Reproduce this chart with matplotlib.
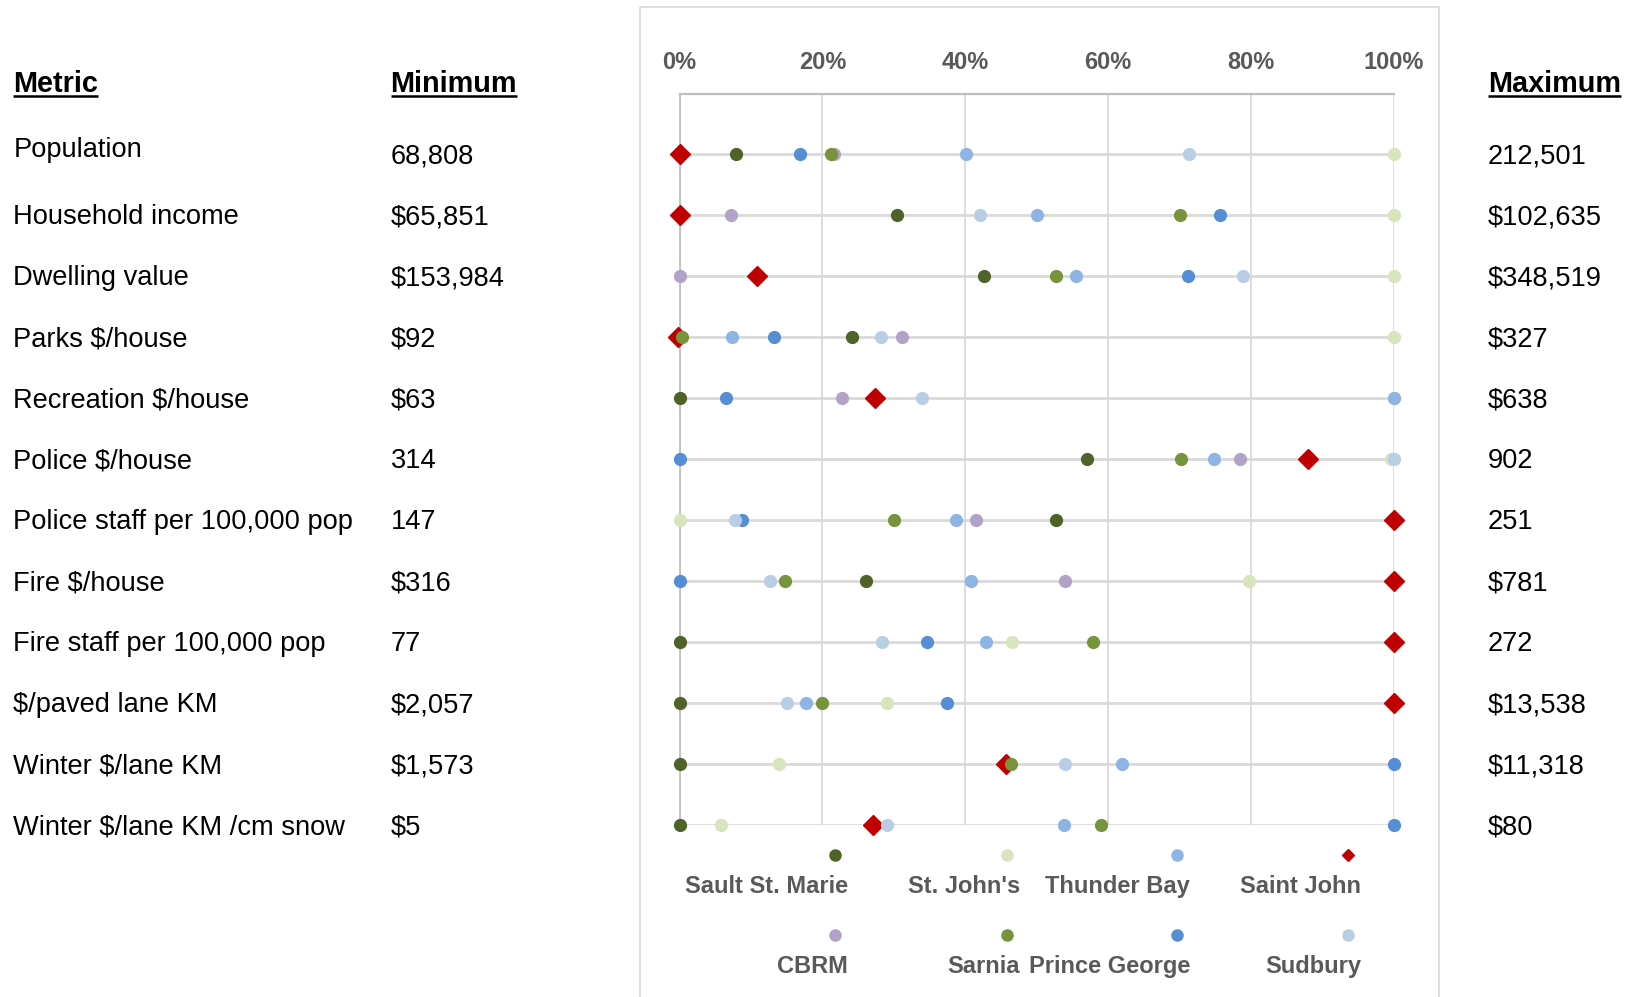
import numpy as np
import matplotlib
matplotlib.use("Agg")
import matplotlib.pyplot as plt
from matplotlib.patches import Rectangle

plt.rcParams['font.family'] = ['Liberation Sans', 'DejaVu Sans']

# ---------------- data ----------------
metrics = ["Population", "Household income", "Dwelling value", "Parks $/house",
           "Recreation $/house", "Police $/house", "Police staff per 100,000 pop",
           "Fire $/house", "Fire staff per 100,000 pop", "$/paved lane KM",
           "Winter $/lane KM", "Winter $/lane KM /cm snow"]
minimums = ["68,808", "$65,851", "$153,984", "$92", "$63", "314", "147", "$316",
            "77", "$2,057", "$1,573", "$5"]
maximums = ["212,501", "$102,635", "$348,519", "$327", "$638", "902", "251", "$781",
            "272", "$13,538", "$11,318", "$80"]

series = ["Sault St. Marie", "St. John's", "Thunder Bay", "Saint John",
          "CBRM", "Sarnia", "Prince George", "Sudbury"]
colors = ["#4F6228", "#D7E4BD", "#8EB4E3", "#C00000",
          "#B3A2C7", "#77933C", "#558ED5", "#B9CDE5"]
nan = np.nan
sault = [7.9, 30.5, 42.6, 24.2, 0, 57.0, 52.7, 26.1, 0, 0, 0, 0]
st_johns = [100, 100, 100, 100, 100, 99.6, 0, 79.7, 46.6, 29.1, 13.9, 5.8]
thunder_bay = [40.1, 50.1, 55.5, 7.4, 100, 74.8, 38.7, 40.8, 42.9, 17.7, 62.0, 53.8]
saint_john = [0, 0, 10.8, -0.2, 27.4, 88.0, 100, 100, 100, 100, 45.7, 27.1]
cbrm = [21.6, 7.2, 0, 31.2, 22.8, 78.4, 41.5, 54.0, nan, nan, nan, nan]
sarnia = [21.2, 70.0, 52.7, 0.4, nan, 70.2, 30.0, 14.7, 57.9, 20.0, 46.4, 59.0]
prince_george = [16.8, 75.7, 71.1, 13.2, 6.5, 0, 8.8, 0, 34.7, 37.5, 100, 100]
sudbury = [71.3, 42.1, 78.8, 28.2, 34.0, 100, 7.7, 12.7, 28.4, 15.1, 54.0, 29.1]
values = [sault, st_johns, thunder_bay, saint_john, cbrm, sarnia, prince_george, sudbury]
xticks = [0, 20, 40, 60, 80, 100]
xticklabels = ["0%", "20%", "40%", "60%", "80%", "100%"]

# ---------------- figure ----------------
W, H = 1629, 997
fig = plt.figure(figsize=(W / 100, H / 100), dpi=100)

# overlay in pixel coordinates for text/legend
ov = fig.add_axes([0, 0, 1, 1], zorder=0)
ov.set_xlim(0, W)
ov.set_ylim(H, 0)
ov.axis("off")

# chart frame
ov.add_patch(Rectangle((640, 7), 799, 1020, fill=False, edgecolor="#D9D9D9", lw=1.2))

# main plot area
x0, x1, ytop, ybot = 679.5, 1394, 93.5, 825
ax = fig.add_axes([x0 / W, 1 - ybot / H, (x1 - x0) / W, (ybot - ytop) / H], zorder=1)
ax.patch.set_alpha(0)
n = len(metrics)
rows = np.arange(1, n + 1)
ax.set_xlim(0, 100)
ax.set_ylim(n, 0)
ax.hlines(rows, 0, 100, color="#D9D9D9", lw=2, zorder=1)
ax.set_xticks(xticks)
ax.set_xticklabels(xticklabels, fontsize=17, fontweight="bold", color="#595959")
ax.xaxis.tick_top()
ax.tick_params(axis="x", length=0, pad=14)
ax.set_yticks([])
ax.grid(axis="x", color="#D9D9D9", lw=1.3, zorder=0)
for s in ["right", "bottom"]:
    ax.spines[s].set_visible(False)
ax.spines["top"].set_color("#BFBFBF")
ax.spines["top"].set_linewidth(1.6)
ax.spines["left"].set_color("#BFBFBF")
ax.spines["left"].set_linewidth(1.3)

for i, (name, col, vals) in enumerate(zip(series, colors, values)):
    if name == "Saint John":
        ax.plot(vals, rows, ls="none", marker="D", ms=10, color=col, mec=col,
                clip_on=False, zorder=3 + i)
    else:
        ax.plot(vals, rows, ls="none", marker="o", ms=8.5, color=col, mec=col,
                clip_on=False, zorder=3 + i)

# ---------------- text columns ----------------
row_px = ytop + (ybot - ytop) * rows / n
fs = 19.6
for i, (m, mn, mx) in enumerate(zip(metrics, minimums, maximums)):
    yb = row_px[i] + 9
    ov.text(13.5, yb - (6.5 if i == 0 else 0), m, fontsize=fs, va="baseline", ha="left")
    ov.text(390.6, yb, mn, fontsize=fs, va="baseline", ha="left")
    ov.text(1488, yb, mx, fontsize=fs, va="baseline", ha="left")

headers = []
for x, t in [(13.5, "Metric"), (390.6, "Minimum"), (1488, "Maximum")]:
    headers.append(ov.text(x, 92.5, t, fontsize=20.8, fontweight="bold",
                           va="baseline", ha="left"))

# ---------------- legend ----------------
leg_x = [835, 1007, 1177, 1348.5]
leg_y = [855, 935]
for i, (name, col) in enumerate(zip(series, colors)):
    lx = leg_x[i % 4]
    ly = leg_y[i // 4]
    if name == "Saint John":
        ov.plot([lx], [ly], marker="D", ms=6.5, color=col, ls="none")
    else:
        ov.plot([lx], [ly], marker="o", ms=8, color=col, ls="none")
    ov.text(lx + 13, ly + 38, name, fontsize=17, fontweight="bold", color="#595959",
            ha="right", va="baseline")

# underline headers
fig.canvas.draw()
r = fig.canvas.get_renderer()
for t in headers:
    bb = t.get_window_extent(r)
    yline = 92.5 + 4
    ov.plot([bb.x0, bb.x1], [yline, yline], color="black", lw=1.8, solid_capstyle="butt")

fig.savefig("out.png", dpi=100)
